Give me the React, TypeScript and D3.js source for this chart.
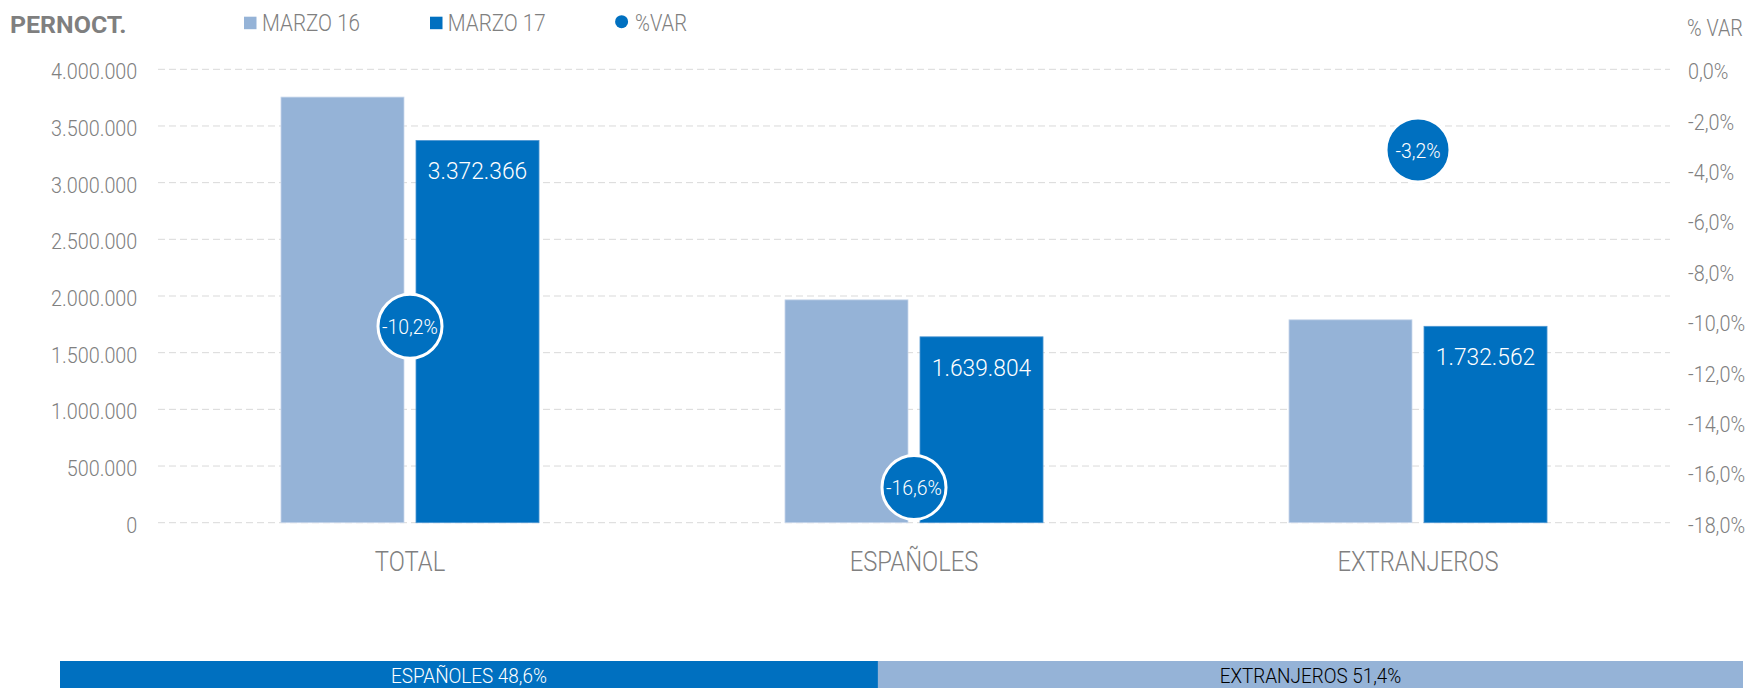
import React from "react";
import * as d3 from "d3";

const categories = ["TOTAL", "ESPAÑOLES", "EXTRANJEROS"];
const seriesNames = ["MARZO 16", "MARZO 17"];
const marzo16 = [3755000, 1966000, 1790000];
const marzo17 = [3372366, 1639804, 1732562];
const varPct = [-10.2, -16.6, -3.2];
const leftTicks = [0, 500000, 1000000, 1500000, 2000000, 2500000, 3000000, 3500000, 4000000];
const rightTicks = [0, -2, -4, -6, -8, -10, -12, -14, -16, -18];
const shareLabels = ["ESPAÑOLES", "EXTRANJEROS"];
const shareValues = [48.6, 51.4];

const W = 1748;
const H = 688;
const FONT = "Roboto, 'Noto Sans', 'DejaVu Sans', sans-serif";
const LIGHT = "#95B3D7";
const DARK = "#0070C0";
const GREY = "#808080";

const fmtInt = (v: number) =>
  Math.round(v)
    .toString()
    .replace(/\B(?=(\d{3})+(?!\d))/g, ".");
const fmtPct = (v: number) => v.toFixed(1).replace(".", ",") + "%";

function T(props: {
  x: number;
  y: number;
  size: number;
  anchor?: string;
  sx?: number;
  fill?: string;
  weight?: string | number;
  children: React.ReactNode;
}) {
  const { x, y, size, anchor = "start", sx = 0.9, fill = GREY, weight = 300, children } = props;
  return (
    <text
      transform={`translate(${x},${y}) scale(${sx},1)`}
      fontSize={size}
      textAnchor={anchor as any}
      fill={fill}
      fontWeight={weight as any}
      fontFamily={FONT}
    >
      {children}
    </text>
  );
}

export default function App() {
  const plotLeft = 158;
  const plotRight = 1670;
  const yTop = 69.3;
  const yBottom = 522.7;

  const x0 = d3
    .scaleBand<string>()
    .domain(categories)
    .range([plotLeft, plotRight])
    .paddingInner(0.488)
    .paddingOuter(0.244);
  const x1 = d3
    .scaleBand<string>()
    .domain(seriesNames)
    .range([0, x0.bandwidth()])
    .paddingInner(0.0889);
  const yL = d3.scaleLinear().domain([0, 4000000]).range([yBottom, yTop]);
  const yR = d3.scaleLinear().domain([-18, 0]).range([yBottom, yTop]);
  const xShare = d3.scaleLinear().domain([0, 100]).range([60, 1743]);

  const seriesData = [marzo16, marzo17];
  const seriesColors = [LIGHT, DARK];

  let acc = 0;
  const shareSegs = shareValues.map((v, i) => {
    const s = { label: shareLabels[i], value: v, x0: xShare(acc), x1: xShare(acc + v) };
    acc += v;
    return s;
  });

  return (
    <svg
      width={W}
      height={H}
      style={{ position: "absolute", left: 0, top: 0, display: "block", background: "#fff" }}
    >
      <rect x={0} y={0} width={W} height={H} fill="#fff" />
      {/* gridlines */}
      {leftTicks.map((t) => (
        <line
          key={"g" + t}
          x1={plotLeft}
          x2={plotRight}
          y1={yL(t)}
          y2={yL(t)}
          stroke="#d9d9d9"
          strokeWidth={1}
          strokeDasharray="7,4"
        />
      ))}
      {/* left tick labels */}
      {leftTicks.map((t) => (
        <T key={"lt" + t} x={137.3} y={yL(t) + 10} size={22} anchor="end" sx={0.9}>
          {fmtInt(t)}
        </T>
      ))}
      {/* right tick labels */}
      {rightTicks.map((t) => (
        <T key={"rt" + t} x={1688} y={yR(t) + 10} size={22} sx={0.9}>
          {fmtPct(t)}
        </T>
      ))}
      <T x={1687} y={36} size={23} sx={0.86}>
        % VAR
      </T>
      {/* bars */}
      {categories.map((c, ci) =>
        seriesNames.map((s, si) => {
          const v = seriesData[si][ci];
          const bx = (x0(c) as number) + (x1(s) as number);
          return (
            <rect
              key={c + s}
              x={bx}
              y={yL(v)}
              width={x1.bandwidth()}
              height={yL(0) - yL(v)}
              fill={seriesColors[si]}
              stroke={si === 0 ? "#c9d8ec" : "#4f97d3"}
              strokeWidth={0.8}
            />
          );
        })
      )}
      {/* value labels on MARZO 17 */}
      {categories.map((c, ci) => {
        const v = marzo17[ci];
        const cx = (x0(c) as number) + (x1("MARZO 17") as number) + x1.bandwidth() / 2;
        return (
          <T key={"vl" + c} x={cx} y={yL(v) + 39} size={24} anchor="middle" sx={0.95} fill="#fff">
            {fmtInt(v)}
          </T>
        );
      })}
      {/* %VAR circles */}
      {categories.map((c, ci) => {
        const cx = (x0(c) as number) + x0.bandwidth() / 2;
        const cy = yR(varPct[ci]);
        return (
          <g key={"c" + c}>
            <circle cx={cx} cy={cy} r={32} fill={DARK} stroke="#fff" strokeWidth={3} />
            <T x={cx} y={cy + 8} size={20} anchor="middle" sx={0.97} fill="#fff">
              {fmtPct(varPct[ci])}
            </T>
          </g>
        );
      })}
      {/* category labels */}
      {categories.map((c) => (
        <T key={"cl" + c} x={(x0(c) as number) + x0.bandwidth() / 2} y={570.7} size={28} anchor="middle" sx={0.85}>
          {c}
        </T>
      ))}
      {/* legend */}
      <T x={10} y={33} size={24} weight={700} sx={1.04} fill="#7f7f7f">
        PERNOCT.
      </T>
      <rect x={244} y={16.7} width={12.5} height={12.5} fill={LIGHT} />
      <T x={262} y={30.7} size={24} sx={0.86}>
        {seriesNames[0]}
      </T>
      <rect x={430} y={16.7} width={12.5} height={12.5} fill={DARK} />
      <T x={447.7} y={30.7} size={24} sx={0.86}>
        {seriesNames[1]}
      </T>
      <circle cx={621.6} cy={21.7} r={6.5} fill={DARK} />
      <T x={635} y={30.7} size={24} sx={0.84}>
        %VAR
      </T>
      {/* share bar */}
      {shareSegs.map((s, i) => (
        <g key={"sh" + i}>
          <rect x={s.x0} y={661} width={s.x1 - s.x0} height={30} fill={i === 0 ? DARK : LIGHT} />
          <T
            x={(s.x0 + s.x1) / 2}
            y={682.5}
            size={21}
            anchor="middle"
            sx={0.9}
            fill={i === 0 ? "#fff" : "#000"}
          >
            {s.label + " " + fmtPct(s.value)}
          </T>
        </g>
      ))}
    </svg>
  );
}
